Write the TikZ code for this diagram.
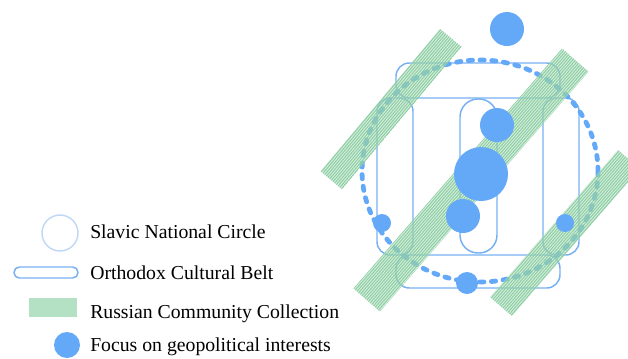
\documentclass[tikz,border=0pt]{standalone}
\usepackage{fontspec}
\setmainfont{Liberation Serif}
\usetikzlibrary{positioning}

\definecolor{focusblue}{RGB}{100,168,248}
\definecolor{beltblue}{RGB}{118,176,242}
\definecolor{circleblue}{RGB}{192,216,246}
\definecolor{bandgreen}{RGB}{130,200,152}
\definecolor{bandfill}{RGB}{180,224,196}

\tikzset{
    focus/.style={circle, fill=focusblue, inner sep=0pt, minimum size=#1},
    belt/.style={draw=beltblue, line width=1.1pt, rounded corners=#1},
    belt/.default=10pt,
    keytext/.style={anchor=west, inner sep=0pt, font=\fontsize{14.8}{17}\selectfont},
}

% hatched band: centre x, centre y, length, width, angle
\newcommand\hatchband[5]{%
    \begin{scope}[shift={(#1,#2)}, rotate=#5]
        \clip (-#3/2,-#4/2) rectangle (#3/2,#4/2);
        \fill[bandfill, opacity=.55] (-#3/2,-#4/2) rectangle (#3/2,#4/2);
        \foreach \s in {-24,-21.8,...,24}
            \draw[bandgreen, line width=.75pt, opacity=.85] (-#3/2,\s) -- (#3/2,\s);
    \end{scope}}

\begin{document}
\begin{tikzpicture}[x=0.75pt, y=-0.75pt]
    \useasboundingbox (0,0) rectangle (628,358);

    % belts and circle
    \draw[belt] (396,63) rectangle (560,98);
    \draw[belt] (396,255) rectangle (560,288);
    \draw[belt] (377,98) rectangle (413,255);
    \draw[belt] (543,98) rectangle (579,255);
    \draw[belt=13.5pt] (460,99) rectangle (497,253);
    \draw[focusblue, line width=3.6pt, line cap=round, dash pattern=on 3.2pt off 5.6pt]
        (480,171) ellipse [x radius=118, y radius=111];

    % community bands
    \hatchband{391}{109}{186}{28}{50}
    \hatchband{471}{180}{318}{35}{49}
    \hatchband{565}{233}{195}{29}{49}

    % focus points
    \node[focus=25.5pt] (top) at (507,29) {};
    \node[focus=40.5pt] (centre) at (481,174) {};
    \node[focus=25.5pt] (upper) at (497,125) {};
    \node[focus=25.5pt] (lower) at (463,216) {};
    \node[focus=13.5pt] (west) at (382,223) {};
    \node[focus=13.5pt] (east) at (565,223) {};
    \node[focus=16.5pt] (south) at (467,283) {};

    % Legend
    \draw[circleblue, line width=1.1pt] (60,233) circle [radius=18];
    \draw[belt=4pt] (14,267) rectangle (78,278);
    \fill[bandfill] (29,298) rectangle (77,317);
    \node[focus=19.5pt] (keyfocus) at (67,345) {};

    \node[keytext] (slavic) at (90,232) {Slavic National Circle};
    \node[keytext] (orthodox) at (90,273) {Orthodox Cultural Belt};
    \node[keytext] (russian) at (90,314) {Russian Community Collection};
    \node[keytext] (geo) at (90,347) {Focus on geopolitical interests};
\end{tikzpicture}
\end{document}
